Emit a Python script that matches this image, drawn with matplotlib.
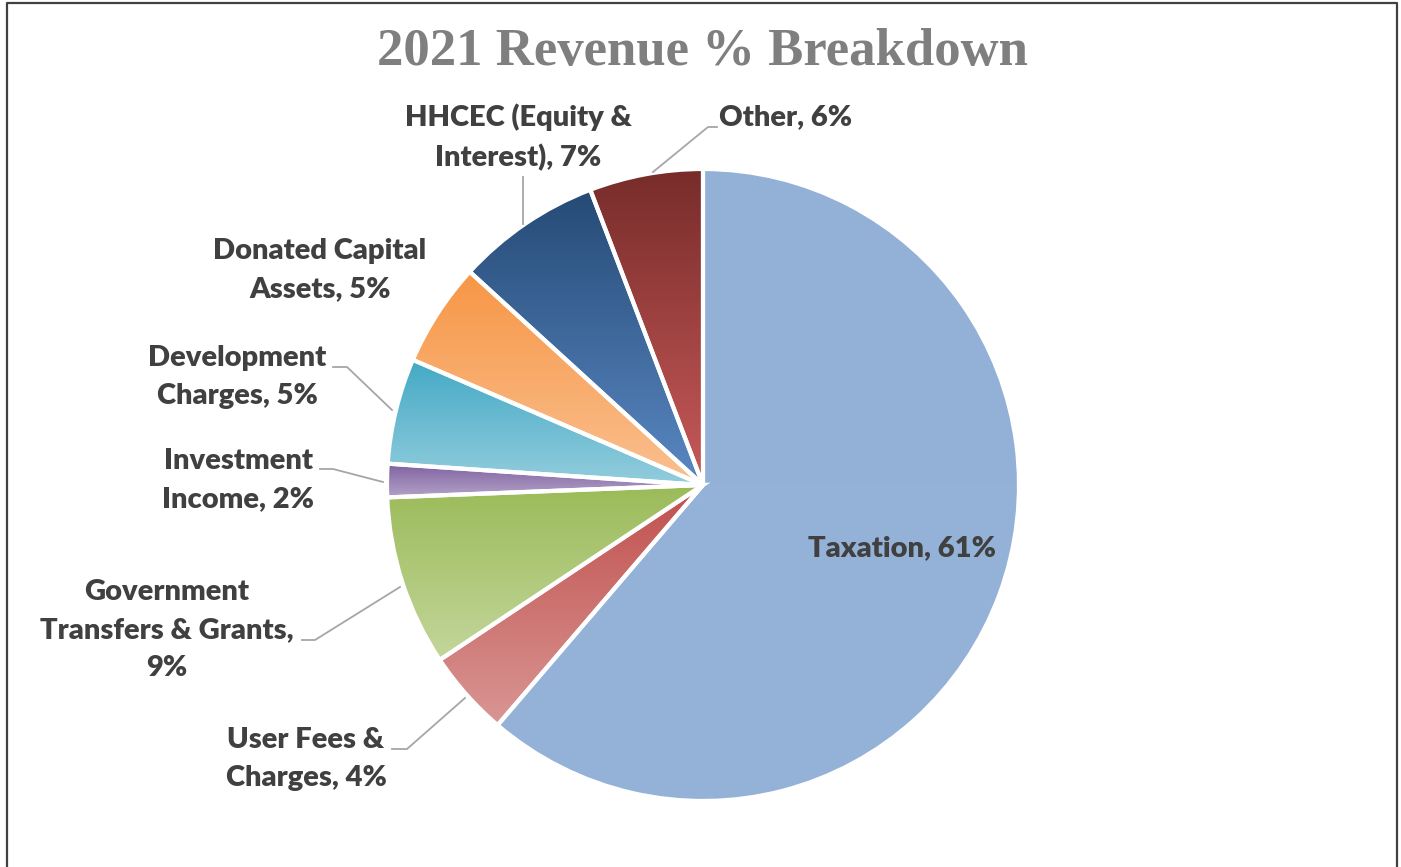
import numpy as np
import matplotlib
matplotlib.use("Agg")
import matplotlib.pyplot as plt
from matplotlib.colors import to_rgb
from matplotlib.lines import Line2D

# ── data ─────────────────────────────────────────────────────────────────────
categories = ["Taxation", "User Fees & Charges", "Government Transfers & Grants",
              "Investment Income", "Development Charges", "Donated Capital Assets",
              "HHCEC (Equity & Interest)", "Other"]
shares = [61.2, 4.4, 8.7, 1.7, 5.4, 5.3, 7.4, 5.8]
label_fmt = ["Taxation, {:.0f}%", "User Fees &\nCharges, {:.0f}%",
             "Government\nTransfers & Grants,\n{:.0f}%", "Investment\nIncome, {:.0f}%",
             "Development\nCharges, {:.0f}%", "Donated Capital\nAssets, {:.0f}%",
             "HHCEC (Equity &\nInterest), {:.0f}%", "Other, {:.0f}%"]

# gradient fill per slice: top colour -> bottom colour
top_colors    = ["#93B1D7", "#C0504D", "#9BBB59", "#7E60A0",
                 "#43A9C5", "#F79646", "#254A75", "#772C2A"]
bottom_colors = ["#95B3D7", "#D99694", "#C3D69B", "#B3A2C7",
                 "#93CDDD", "#FAC090", "#5A88C3", "#C85A5A"]

# ── layout (pixels) ──────────────────────────────────────────────────────────
W, H = 1401, 867
CX, CY, R = 703, 485, 316
TEXT = "#404040"
LEADER = "#A6A6A6"

label_xy = [(902, 548), (306, 759), (167, 630), (238, 480),
            (237, 377), (320, 270), (518, 137), (786, 117)]
leaders = [None,
           [(392, 749), (407, 749), (465, 698)],
           [(302, 640), (315, 640), (400, 587)],
           [(320, 469), (333, 469), (383, 482)],
           [(333, 367), (347, 367), (392, 410)],
           None,
           [(523, 177), (523, 224)],
           [(717, 127), (708, 127), (653, 172)]]


def px(x, y):
    """pixel position -> pie data coords (centre 0,0, radius 1)"""
    return (x - CX) / R, (CY - y) / R


fig = plt.figure(figsize=(W / 100, H / 100), dpi=100)
fig.patch.set_facecolor("white")
ax = fig.add_axes([(CX - R) / W, (H - CY - R) / H, 2 * R / W, 2 * R / H])
ax.axis("off")

wedges, _ = ax.pie(shares, startangle=90, counterclock=False, radius=1,
                   colors=bottom_colors, wedgeprops=dict(linewidth=0))

for w, c0, c1 in zip(wedges, top_colors, bottom_colors):
    ext = w.get_path().get_extents()
    t = np.linspace(0, 1, 256)[:, None, None]
    grad = (1 - t) * np.array(to_rgb(c0)) + t * np.array(to_rgb(c1))
    grad = np.repeat(grad, 2, axis=1)
    im = ax.imshow(grad, extent=[ext.x0, ext.x1, ext.y0, ext.y1], origin="upper",
                   aspect="auto", interpolation="bilinear", zorder=2)
    im.set_clip_path(w)

# white separators on top of the gradients
ax.pie(shares, startangle=90, counterclock=False, radius=1,
       wedgeprops=dict(fill=False, edgecolor="white", linewidth=3, zorder=3))
ax.set_xlim(-1, 1)
ax.set_ylim(-1, 1)
ax.set_aspect("equal")

for fmt, v, (lx, ly), pts in zip(label_fmt, shares, label_xy, leaders):
    ax.text(*px(lx, ly), fmt.format(v), ha="center", va="center",
            fontsize=21, fontweight="heavy", family="Lato", color=TEXT,
            linespacing=1.58, zorder=5)
    if pts:
        xs, ys = zip(*[px(x, y) for x, y in pts])
        ax.plot(xs, ys, color=LEADER, lw=1.3, clip_on=False, zorder=4)

fig.text(702 / W, 1 - 52 / H, "2021 Revenue % Breakdown", ha="center", va="center",
         fontsize=38, fontweight="bold", family="Liberation Serif", color="#7F7F7F")

# chart frame (open at the bottom)
fig.add_artist(Line2D([7 / W, 7 / W, 1397 / W, 1397 / W], [0, 1 - 3 / H, 1 - 3 / H, 0],
                      transform=fig.transFigure, color="#404040", lw=1.6))

fig.savefig("out.png", dpi=100)
